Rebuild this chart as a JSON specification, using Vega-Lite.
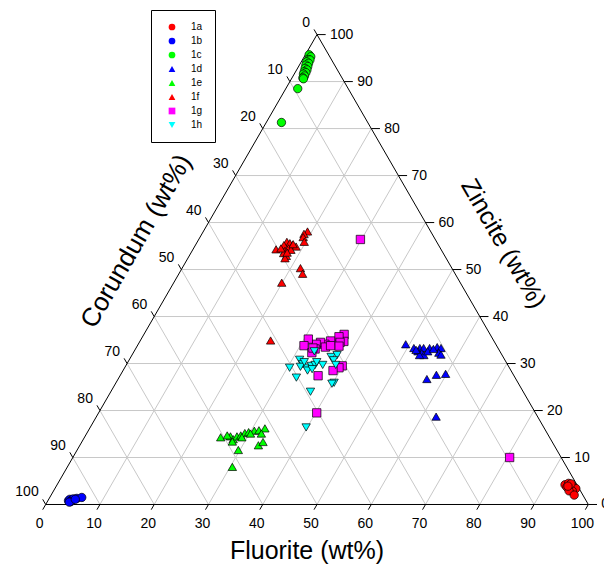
{
  "$schema": "https://vega.github.io/schema/vega-lite/v6.json",
  "width": 604,
  "height": 565,
  "autosize": {"type": "none"},
  "padding": 0,
  "background": "white",
  "config": {"view": {"stroke": null}, "font": "Liberation Sans"},
  "datasets": {
    "scaleValues": [
      {"v": 0}, {"v": 10}, {"v": 20}, {"v": 30}, {"v": 40}, {"v": 50},
      {"v": 60}, {"v": 70}, {"v": 80}, {"v": 90}, {"v": 100}
    ],
    "samples": [
      {"sample": "1a", "Fluorite": 93.6, "Zincite": 4.2},
      {"sample": "1a", "Fluorite": 94.1, "Zincite": 4.5},
      {"sample": "1a", "Fluorite": 94.9, "Zincite": 3.9},
      {"sample": "1a", "Fluorite": 94.2, "Zincite": 3.7},
      {"sample": "1a", "Fluorite": 94.9, "Zincite": 3.4},
      {"sample": "1a", "Fluorite": 95.3, "Zincite": 3.8},
      {"sample": "1a", "Fluorite": 96.0, "Zincite": 3.4},
      {"sample": "1a", "Fluorite": 95.6, "Zincite": 2.9},
      {"sample": "1a", "Fluorite": 95.0, "Zincite": 2.9},
      {"sample": "1a", "Fluorite": 96.4, "Zincite": 2.0},
      {"sample": "1a", "Fluorite": 94.6, "Zincite": 4.4},
      {"sample": "1a", "Fluorite": 94.3, "Zincite": 3.9},
      {"sample": "1b", "Fluorite": 3.8, "Zincite": 0.8},
      {"sample": "1b", "Fluorite": 3.9, "Zincite": 1.1},
      {"sample": "1b", "Fluorite": 4.3, "Zincite": 1.0},
      {"sample": "1b", "Fluorite": 4.5, "Zincite": 1.2},
      {"sample": "1b", "Fluorite": 4.3, "Zincite": 0.6},
      {"sample": "1b", "Fluorite": 5.1, "Zincite": 1.3},
      {"sample": "1b", "Fluorite": 5.9, "Zincite": 1.5},
      {"sample": "1b", "Fluorite": 4.1, "Zincite": 0.5},
      {"sample": "1b", "Fluorite": 4.9, "Zincite": 1.1},
      {"sample": "1c", "Fluorite": 0.7, "Zincite": 95.7},
      {"sample": "1c", "Fluorite": 1.2, "Zincite": 95.3},
      {"sample": "1c", "Fluorite": 1.1, "Zincite": 94.7},
      {"sample": "1c", "Fluorite": 1.4, "Zincite": 94.6},
      {"sample": "1c", "Fluorite": 1.0, "Zincite": 94.2},
      {"sample": "1c", "Fluorite": 1.5, "Zincite": 93.9},
      {"sample": "1c", "Fluorite": 1.2, "Zincite": 93.5},
      {"sample": "1c", "Fluorite": 1.7, "Zincite": 93.2},
      {"sample": "1c", "Fluorite": 1.4, "Zincite": 92.8},
      {"sample": "1c", "Fluorite": 1.9, "Zincite": 92.5},
      {"sample": "1c", "Fluorite": 1.6, "Zincite": 92.1},
      {"sample": "1c", "Fluorite": 2.0, "Zincite": 91.9},
      {"sample": "1c", "Fluorite": 1.7, "Zincite": 91.6},
      {"sample": "1c", "Fluorite": 2.1, "Zincite": 91.2},
      {"sample": "1c", "Fluorite": 2.0, "Zincite": 90.8},
      {"sample": "1c", "Fluorite": 2.2, "Zincite": 90.6},
      {"sample": "1c", "Fluorite": 2.2, "Zincite": 88.5},
      {"sample": "1c", "Fluorite": 2.8, "Zincite": 81.3},
      {"sample": "1d", "Fluorite": 49.3, "Zincite": 34.1},
      {"sample": "1d", "Fluorite": 51.2, "Zincite": 33.3},
      {"sample": "1d", "Fluorite": 52.3, "Zincite": 33.3},
      {"sample": "1d", "Fluorite": 53.0, "Zincite": 33.3},
      {"sample": "1d", "Fluorite": 54.1, "Zincite": 33.3},
      {"sample": "1d", "Fluorite": 55.4, "Zincite": 33.5},
      {"sample": "1d", "Fluorite": 56.2, "Zincite": 33.3},
      {"sample": "1d", "Fluorite": 52.3, "Zincite": 32.6},
      {"sample": "1d", "Fluorite": 53.2, "Zincite": 32.2},
      {"sample": "1d", "Fluorite": 53.8, "Zincite": 31.8},
      {"sample": "1d", "Fluorite": 54.1, "Zincite": 32.6},
      {"sample": "1d", "Fluorite": 56.3, "Zincite": 32.3},
      {"sample": "1d", "Fluorite": 56.9, "Zincite": 31.9},
      {"sample": "1d", "Fluorite": 53.0, "Zincite": 31.8},
      {"sample": "1d", "Fluorite": 56.9, "Zincite": 26.7},
      {"sample": "1d", "Fluorite": 58.2, "Zincite": 27.6},
      {"sample": "1d", "Fluorite": 59.8, "Zincite": 27.8},
      {"sample": "1d", "Fluorite": 62.6, "Zincite": 18.7},
      {"sample": "1d", "Fluorite": 51.8, "Zincite": 32.9},
      {"sample": "1d", "Fluorite": 54.9, "Zincite": 33.1},
      {"sample": "1e", "Fluorite": 25.1, "Zincite": 14.3},
      {"sample": "1e", "Fluorite": 26.8, "Zincite": 14.5},
      {"sample": "1e", "Fluorite": 27.6, "Zincite": 13.9},
      {"sample": "1e", "Fluorite": 28.0, "Zincite": 14.5},
      {"sample": "1e", "Fluorite": 28.6, "Zincite": 14.7},
      {"sample": "1e", "Fluorite": 29.1, "Zincite": 15.2},
      {"sample": "1e", "Fluorite": 29.7, "Zincite": 15.4},
      {"sample": "1e", "Fluorite": 30.6, "Zincite": 15.7},
      {"sample": "1e", "Fluorite": 31.4, "Zincite": 15.8},
      {"sample": "1e", "Fluorite": 32.3, "Zincite": 16.2},
      {"sample": "1e", "Fluorite": 32.2, "Zincite": 15.1},
      {"sample": "1e", "Fluorite": 27.7, "Zincite": 13.4},
      {"sample": "1e", "Fluorite": 29.7, "Zincite": 11.6},
      {"sample": "1e", "Fluorite": 32.9, "Zincite": 12.6},
      {"sample": "1e", "Fluorite": 33.4, "Zincite": 13.3},
      {"sample": "1e", "Fluorite": 30.4, "Zincite": 8.0},
      {"sample": "1e", "Fluorite": 29.0, "Zincite": 14.3},
      {"sample": "1e", "Fluorite": 30.2, "Zincite": 15.1},
      {"sample": "1e", "Fluorite": 26.1, "Zincite": 14.7},
      {"sample": "1f", "Fluorite": 19.2, "Zincite": 58.1},
      {"sample": "1f", "Fluorite": 18.8, "Zincite": 57.6},
      {"sample": "1f", "Fluorite": 19.0, "Zincite": 56.9},
      {"sample": "1f", "Fluorite": 19.7, "Zincite": 55.9},
      {"sample": "1f", "Fluorite": 16.5, "Zincite": 55.9},
      {"sample": "1f", "Fluorite": 17.2, "Zincite": 55.6},
      {"sample": "1f", "Fluorite": 17.9, "Zincite": 55.2},
      {"sample": "1f", "Fluorite": 18.7, "Zincite": 54.9},
      {"sample": "1f", "Fluorite": 16.3, "Zincite": 55.2},
      {"sample": "1f", "Fluorite": 15.3, "Zincite": 54.3},
      {"sample": "1f", "Fluorite": 17.1, "Zincite": 54.0},
      {"sample": "1f", "Fluorite": 17.5, "Zincite": 54.5},
      {"sample": "1f", "Fluorite": 18.1, "Zincite": 54.2},
      {"sample": "1f", "Fluorite": 17.1, "Zincite": 53.5},
      {"sample": "1f", "Fluorite": 17.9, "Zincite": 52.9},
      {"sample": "1f", "Fluorite": 17.9, "Zincite": 52.4},
      {"sample": "1f", "Fluorite": 17.7, "Zincite": 53.6},
      {"sample": "1f", "Fluorite": 21.8, "Zincite": 50.3},
      {"sample": "1f", "Fluorite": 22.8, "Zincite": 49.1},
      {"sample": "1f", "Fluorite": 19.9, "Zincite": 47.2},
      {"sample": "1f", "Fluorite": 17.9, "Zincite": 55.4},
      {"sample": "1f", "Fluorite": 16.1, "Zincite": 54.5},
      {"sample": "1f", "Fluorite": 24.0, "Zincite": 34.9},
      {"sample": "1g", "Fluorite": 29.8, "Zincite": 56.4},
      {"sample": "1g", "Fluorite": 36.9, "Zincite": 36.2},
      {"sample": "1g", "Fluorite": 37.6, "Zincite": 34.7},
      {"sample": "1g", "Fluorite": 36.2, "Zincite": 35.7},
      {"sample": "1g", "Fluorite": 37.0, "Zincite": 34.5},
      {"sample": "1g", "Fluorite": 35.1, "Zincite": 34.8},
      {"sample": "1g", "Fluorite": 34.4, "Zincite": 34.1},
      {"sample": "1g", "Fluorite": 33.4, "Zincite": 34.5},
      {"sample": "1g", "Fluorite": 32.8, "Zincite": 34.1},
      {"sample": "1g", "Fluorite": 30.8, "Zincite": 35.2},
      {"sample": "1g", "Fluorite": 30.7, "Zincite": 33.8},
      {"sample": "1g", "Fluorite": 33.1, "Zincite": 33.1},
      {"sample": "1g", "Fluorite": 32.9, "Zincite": 32.3},
      {"sample": "1g", "Fluorite": 32.6, "Zincite": 33.3},
      {"sample": "1g", "Fluorite": 34.8, "Zincite": 33.5},
      {"sample": "1g", "Fluorite": 37.2, "Zincite": 33.7},
      {"sample": "1g", "Fluorite": 35.6, "Zincite": 33.8},
      {"sample": "1g", "Fluorite": 39.9, "Zincite": 29.5},
      {"sample": "1g", "Fluorite": 39.5, "Zincite": 29.1},
      {"sample": "1g", "Fluorite": 38.7, "Zincite": 28.5},
      {"sample": "1g", "Fluorite": 36.5, "Zincite": 27.4},
      {"sample": "1g", "Fluorite": 40.2, "Zincite": 19.5},
      {"sample": "1g", "Fluorite": 80.5, "Zincite": 10.0},
      {"sample": "1h", "Fluorite": 33.2, "Zincite": 32.6},
      {"sample": "1h", "Fluorite": 31.4, "Zincite": 30.8},
      {"sample": "1h", "Fluorite": 30.4, "Zincite": 29.1},
      {"sample": "1h", "Fluorite": 32.7, "Zincite": 27.0},
      {"sample": "1h", "Fluorite": 36.8, "Zincite": 24.0},
      {"sample": "1h", "Fluorite": 39.8, "Zincite": 16.4},
      {"sample": "1h", "Fluorite": 32.4, "Zincite": 29.9},
      {"sample": "1h", "Fluorite": 33.5, "Zincite": 29.1},
      {"sample": "1h", "Fluorite": 34.2, "Zincite": 29.5},
      {"sample": "1h", "Fluorite": 34.8, "Zincite": 29.7},
      {"sample": "1h", "Fluorite": 34.0, "Zincite": 28.5},
      {"sample": "1h", "Fluorite": 34.7, "Zincite": 28.8},
      {"sample": "1h", "Fluorite": 36.2, "Zincite": 29.7},
      {"sample": "1h", "Fluorite": 34.8, "Zincite": 30.3},
      {"sample": "1h", "Fluorite": 36.9, "Zincite": 31.4},
      {"sample": "1h", "Fluorite": 37.8, "Zincite": 31.8},
      {"sample": "1h", "Fluorite": 37.7, "Zincite": 30.7},
      {"sample": "1h", "Fluorite": 38.6, "Zincite": 29.7},
      {"sample": "1h", "Fluorite": 40.2, "Zincite": 25.9},
      {"sample": "1h", "Fluorite": 39.9, "Zincite": 25.7},
      {"sample": "1h", "Fluorite": 32.3, "Zincite": 29.3},
      {"sample": "1h", "Fluorite": 32.5, "Zincite": 30.3}
    ]
  },
  "encoding": {
    "x": {"field": "px", "type": "quantitative", "scale": {"domain": [-8.42, 102.89], "nice": false, "zero": false}, "axis": null},
    "y": {"field": "Z", "type": "quantitative", "scale": {"domain": [-12.875, 107.36], "nice": false, "zero": false}, "axis": null}
  },
  "layer": [
    {
      "description": "grid: lines of constant fluorite",
      "data": {"name": "scaleValues"},
      "transform": [
        {"filter": "datum.v > 0 && datum.v < 100"},
        {"calculate": "datum.v", "as": "px"},
        {"calculate": "0", "as": "Z"},
        {"calculate": "datum.v + (100 - datum.v) / 2", "as": "px2"},
        {"calculate": "100 - datum.v", "as": "Z2"}
      ],
      "mark": {"type": "rule", "color": "#c8c8c8", "strokeWidth": 1},
      "encoding": {"x2": {"field": "px2"}, "y2": {"field": "Z2"}}
    },
    {
      "description": "grid: lines of constant zincite",
      "data": {"name": "scaleValues"},
      "transform": [
        {"filter": "datum.v > 0 && datum.v < 100"},
        {"calculate": "100 - datum.v / 2", "as": "px"},
        {"calculate": "datum.v", "as": "Z"},
        {"calculate": "datum.v / 2", "as": "px2"},
        {"calculate": "datum.v", "as": "Z2"}
      ],
      "mark": {"type": "rule", "color": "#c8c8c8", "strokeWidth": 1},
      "encoding": {"x2": {"field": "px2"}, "y2": {"field": "Z2"}}
    },
    {
      "description": "grid: lines of constant corundum",
      "data": {"name": "scaleValues"},
      "transform": [
        {"filter": "datum.v > 0 && datum.v < 100"},
        {"calculate": "100 - datum.v", "as": "px"},
        {"calculate": "0", "as": "Z"},
        {"calculate": "(100 - datum.v) / 2", "as": "px2"},
        {"calculate": "100 - datum.v", "as": "Z2"}
      ],
      "mark": {"type": "rule", "color": "#c8c8c8", "strokeWidth": 1},
      "encoding": {"x2": {"field": "px2"}, "y2": {"field": "Z2"}}
    },
    {
      "description": "triangle frame (corners as Fluorite/Zincite compositions)",
      "data": {"values": [
        {"F": 0, "Zc": 0, "F2": 100, "Zc2": 0},
        {"F": 100, "Zc": 0, "F2": 0, "Zc2": 100},
        {"F": 0, "Zc": 100, "F2": 0, "Zc2": 0}
      ]},
      "transform": [
        {"calculate": "datum.F + datum.Zc / 2", "as": "px"},
        {"calculate": "datum.Zc", "as": "Z"},
        {"calculate": "datum.F2 + datum.Zc2 / 2", "as": "px2"},
        {"calculate": "datum.Zc2", "as": "Z2"}
      ],
      "mark": {"type": "rule", "color": "black", "strokeWidth": 1},
      "encoding": {"x2": {"field": "px2"}, "y2": {"field": "Z2"}}
    },
    {
      "description": "fluorite ticks, extended along constant-fluorite direction",
      "data": {"name": "scaleValues"},
      "transform": [
        {"calculate": "datum.v", "as": "px"},
        {"calculate": "0", "as": "Z"},
        {"calculate": "datum.v - 0.55", "as": "px2"},
        {"calculate": "-1.1", "as": "Z2"}
      ],
      "mark": {"type": "rule", "color": "black", "strokeWidth": 1},
      "encoding": {"x2": {"field": "px2"}, "y2": {"field": "Z2"}}
    },
    {
      "description": "zincite ticks",
      "data": {"name": "scaleValues"},
      "transform": [
        {"calculate": "100 - datum.v / 2", "as": "px"},
        {"calculate": "datum.v", "as": "Z"},
        {"calculate": "101.6 - datum.v / 2", "as": "px2"},
        {"calculate": "datum.v", "as": "Z2"}
      ],
      "mark": {"type": "rule", "color": "black", "strokeWidth": 1},
      "encoding": {"x2": {"field": "px2"}, "y2": {"field": "Z2"}}
    },
    {
      "description": "corundum ticks",
      "data": {"name": "scaleValues"},
      "transform": [
        {"calculate": "(100 - datum.v) / 2", "as": "px"},
        {"calculate": "100 - datum.v", "as": "Z"},
        {"calculate": "(100 - datum.v) / 2 - 0.55", "as": "px2"},
        {"calculate": "101.1 - datum.v", "as": "Z2"}
      ],
      "mark": {"type": "rule", "color": "black", "strokeWidth": 1},
      "encoding": {"x2": {"field": "px2"}, "y2": {"field": "Z2"}}
    },
    {
      "description": "fluorite tick labels",
      "data": {"name": "scaleValues"},
      "transform": [
        {"calculate": "datum.v", "as": "px"},
        {"calculate": "0", "as": "Z"}
      ],
      "mark": {"type": "text", "align": "center", "baseline": "middle", "dx": -6, "dy": 20, "fontSize": 14, "color": "black"},
      "encoding": {"text": {"field": "v", "type": "quantitative"}}
    },
    {
      "description": "zincite tick labels",
      "data": {"name": "scaleValues"},
      "transform": [
        {"calculate": "100 - datum.v / 2", "as": "px"},
        {"calculate": "datum.v", "as": "Z"}
      ],
      "mark": {"type": "text", "align": "left", "baseline": "middle", "dx": 13, "dy": 0, "fontSize": 14, "color": "black"},
      "encoding": {"text": {"field": "v", "type": "quantitative"}}
    },
    {
      "description": "corundum tick labels",
      "data": {"name": "scaleValues"},
      "transform": [
        {"calculate": "(100 - datum.v) / 2", "as": "px"},
        {"calculate": "100 - datum.v", "as": "Z"}
      ],
      "mark": {"type": "text", "align": "right", "baseline": "middle", "dx": -7, "dy": -12, "fontSize": 14, "color": "black"},
      "encoding": {"text": {"field": "v", "type": "quantitative"}}
    },
    {
      "description": "fluorite axis title, centred under the base",
      "data": {"values": [{"title": "Fluorite (wt%)", "F": 50, "Zc": 0}]},
      "transform": [
        {"calculate": "datum.F + datum.Zc / 2", "as": "px"},
        {"calculate": "datum.Zc", "as": "Z"}
      ],
      "mark": {"type": "text", "align": "center", "baseline": "middle", "dx": -10, "dy": 47, "fontSize": 25, "color": "black"},
      "encoding": {"text": {"field": "title"}}
    },
    {
      "description": "corundum axis title along the left edge",
      "data": {"values": [{"title": "Corundum (wt%)", "F": 0, "Zc": 50}]},
      "transform": [
        {"calculate": "datum.F + datum.Zc / 2", "as": "px"},
        {"calculate": "datum.Zc", "as": "Z"}
      ],
      "mark": {"type": "text", "align": "center", "baseline": "middle", "angle": -60, "dx": 2, "dy": -53, "fontSize": 26, "color": "black"},
      "encoding": {"text": {"field": "title"}}
    },
    {
      "description": "zincite axis title along the right edge",
      "data": {"values": [{"title": "Zincite (wt%)", "F": 50, "Zc": 50}]},
      "transform": [
        {"calculate": "datum.F + datum.Zc / 2", "as": "px"},
        {"calculate": "datum.Zc", "as": "Z"}
      ],
      "mark": {"type": "text", "align": "center", "baseline": "middle", "angle": 60, "dx": 3, "dy": -57, "fontSize": 25, "color": "black"},
      "encoding": {"text": {"field": "title"}}
    },
    {
      "description": "sample compositions (corundum = 100 - fluorite - zincite)",
      "data": {"name": "samples"},
      "transform": [
        {"calculate": "datum.Fluorite + datum.Zincite / 2", "as": "px"},
        {"calculate": "datum.Zincite", "as": "Z"}
      ],
      "mark": {"type": "point", "filled": true, "stroke": "black", "strokeWidth": 0.7, "opacity": 1, "size": 70},
      "encoding": {
        "fill": {
          "field": "sample", "type": "nominal",
          "scale": {
            "domain": ["1a", "1b", "1c", "1d", "1e", "1f", "1g", "1h"],
            "range": ["#ff0000", "#0000ff", "#00ff00", "#0000ff", "#00ff00", "#ff0000", "#ff00ff", "#00ffff"]
          },
          "legend": {
            "title": null, "orient": "none", "legendX": 151, "legendY": 10,
            "strokeColor": "black", "fillColor": "white", "padding": 12,
            "labelFontSize": 10, "labelColor": "black", "symbolSize": 45, "rowPadding": 4,
            "labelOffset": 14, "symbolOffset": 4,
            "symbolStrokeColor": "black", "symbolStrokeWidth": 0.6
          }
        },
        "shape": {
          "field": "sample", "type": "nominal",
          "scale": {
            "domain": ["1a", "1b", "1c", "1d", "1e", "1f", "1g", "1h"],
            "range": ["circle", "circle", "circle", "triangle-up", "triangle-up", "triangle-up", "square", "triangle-down"]
          },
          "legend": {
            "title": null, "orient": "none", "legendX": 151, "legendY": 10,
            "strokeColor": "black", "fillColor": "white", "padding": 12,
            "labelFontSize": 10, "labelColor": "black", "symbolSize": 45, "rowPadding": 4,
            "labelOffset": 14, "symbolOffset": 4,
            "symbolStrokeColor": "black", "symbolStrokeWidth": 0.6
          }
        }
      }
    }
  ]
}
